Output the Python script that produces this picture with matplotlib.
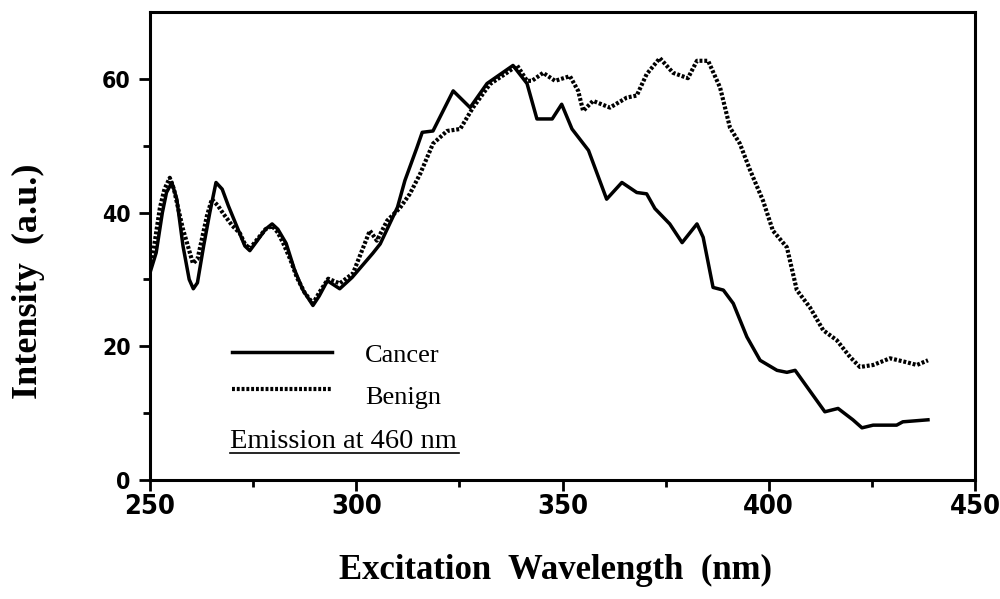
import matplotlib
matplotlib.use("Agg")
import matplotlib.pyplot as plt

# excitation spectra, emission at 460 nm
cancer_nm = [250, 251.5, 253, 254, 255.3, 256.5, 258, 259.5, 260.5, 261.5, 263, 264.5,
             266, 267.5, 269, 271, 273, 274.2, 276, 278, 279.6, 281, 283, 285, 287,
             289.5, 291, 293, 296, 299, 304, 305.8, 310, 311.8, 314.7, 316, 318.6, 323.5,
             327.6, 331.7, 338, 341.4, 343.8, 347.5, 349.8, 352.3, 356.3, 360.7, 364.4,
             368, 370.4, 372.4, 376, 379, 382.6, 384.1, 386.5, 389, 391.4, 394.7, 397.9,
             402, 404.4, 406.4, 409.3, 413.6, 416.8, 420.4, 422.6, 425.3, 431, 432.5, 438.6]
cancer_int = [31, 34, 40, 43, 44.5, 42, 35, 30, 28.6, 29.5, 35, 40,
              44.5, 43.5, 41, 38, 35, 34.3, 35.8, 37.5, 38.3, 37.5, 35.4, 31.5, 28.5,
              26.1, 27.5, 29.8, 28.6, 30.3, 33.9, 35.3, 40.8, 44.8, 49.7, 52, 52.2, 58.2,
              55.7, 59.3, 62, 59.3, 54, 54, 56.2, 52.5, 49.3, 42, 44.5,
              43, 42.8, 40.6, 38.3, 35.5, 38.3, 36.3, 28.8, 28.4, 26.4, 21.4, 17.9,
              16.4, 16.1, 16.4, 13.9, 10.2, 10.7, 9, 7.8, 8.2, 8.2, 8.7, 9]

benign_nm = [250, 251, 252.4, 253.5, 254.8, 255.8, 256.8, 258, 259, 260.4, 261.5, 262.5,
             263.8, 265, 266.5, 267.8, 270, 271.8, 273, 274.2, 276, 278, 279.6, 281,
             282.3, 284, 285.6, 287.5, 289.5, 291, 293.2, 296, 299.2, 303.3, 305, 307.5,
             310.6, 313, 315.5, 318.6, 322, 325.2, 328.3, 332.4, 336.5, 339, 341.4, 342.6,
             345.3, 348.2, 351.8, 353.8, 355, 357.4, 361.5, 365.6, 368, 370.4, 373.6,
             376.8, 380.4, 382.6, 385.3, 388.2, 390.6, 393, 395.5, 398.6, 401, 404.4,
             406.8, 410, 413.2, 416.5, 419.7, 422.1, 425.3, 429.4, 433.5, 435.9, 438.6]
benign_int = [31.8, 35, 40.7, 43.5, 45.2, 43.5, 40.7, 37.5, 35.4, 32.4, 33, 35.8,
              39.5, 42, 41, 39.8, 38, 36.9, 35.3, 34.6, 36, 37.5, 38, 37,
              35.4, 33, 30.3, 28, 26.4, 28, 30.1, 29.4, 30.9, 37.3, 35.8, 38.8,
              40.7, 42.8, 45.8, 50.3, 52.2, 52.5, 55.7, 59.2, 60.9, 62, 59.7, 59.7,
              60.9, 59.7, 60.4, 58.2, 55.2, 56.7, 55.7, 57.2, 57.5, 60.7, 63.1,
              60.9, 60.1, 62.7, 62.7, 58.7, 52.7, 50.3, 46.3, 41.8, 37.3, 34.8,
              28.4, 25.8, 22.4, 20.9, 18.4, 16.9, 17.2, 18.2, 17.6, 17.2, 17.9]

fig = plt.figure(figsize=(10, 5.99), dpi=100)
ax = fig.add_axes([0.15, 0.1987, 0.825, 0.7813])

dotted = (0, (0.7, 0.45))
ax.plot(cancer_nm, cancer_int, color="black", linewidth=2.5)
ax.plot(benign_nm, benign_int, color="black", linewidth=3, linestyle=dotted)

ax.set_xlim(250, 450)
ax.set_ylim(0, 70)
ax.set_xticks([250, 300, 350, 400, 450])
ax.set_xticks([275, 325, 375, 425], minor=True)
ax.set_yticks([0, 20, 40, 60])
ax.set_yticks([10, 30, 50], minor=True)
ax.tick_params(which="major", direction="out", length=8, width=2)
ax.tick_params(which="minor", direction="out", length=5, width=2)
for lab in ax.get_xticklabels():
    lab.set_fontfamily("DejaVu Sans")
    lab.set_fontstretch("condensed")
    lab.set_fontweight("bold")
    lab.set_fontsize(19.5)
for lab in ax.get_yticklabels():
    lab.set_fontfamily("DejaVu Sans")
    lab.set_fontstretch("condensed")
    lab.set_fontweight("bold")
    lab.set_fontsize(16.5)
ax.tick_params(axis="x", pad=2)
ax.tick_params(axis="y", pad=6)
for sp in ax.spines.values():
    sp.set_linewidth(2.2)

ax.set_xlabel("Excitation  Wavelength  (nm)", family="Liberation Serif",
              weight="bold", size=25)
ax.set_ylabel("Intensity  (a.u.)", family="Liberation Serif", weight="bold", size=26)
ax.xaxis.set_label_coords(0.491, -0.158)
ax.yaxis.set_label_coords(-0.127, 0.425)

# hand-drawn legend, as in the original figure
tr = ax.transAxes
ax.plot([0.099, 0.221], [0.2735, 0.2735], color="black", linewidth=2.5, transform=tr)
ax.plot([0.099, 0.219], [0.1944, 0.1944], color="black", linewidth=3,
        linestyle=dotted, transform=tr)
leg_font = dict(family="Liberation Serif", va="center", ha="left", transform=tr)
ax.text(0.261, 0.265, "Cancer", size=19, **leg_font)
ax.text(0.261, 0.175, "Benign", size=19, **leg_font)
ax.text(0.097, 0.083, "Emission at 460 nm", size=20.5, **leg_font)
ax.plot([0.097, 0.374], [0.058, 0.058], color="black", linewidth=1.2, transform=tr)

fig.savefig("out.png", dpi=100)
